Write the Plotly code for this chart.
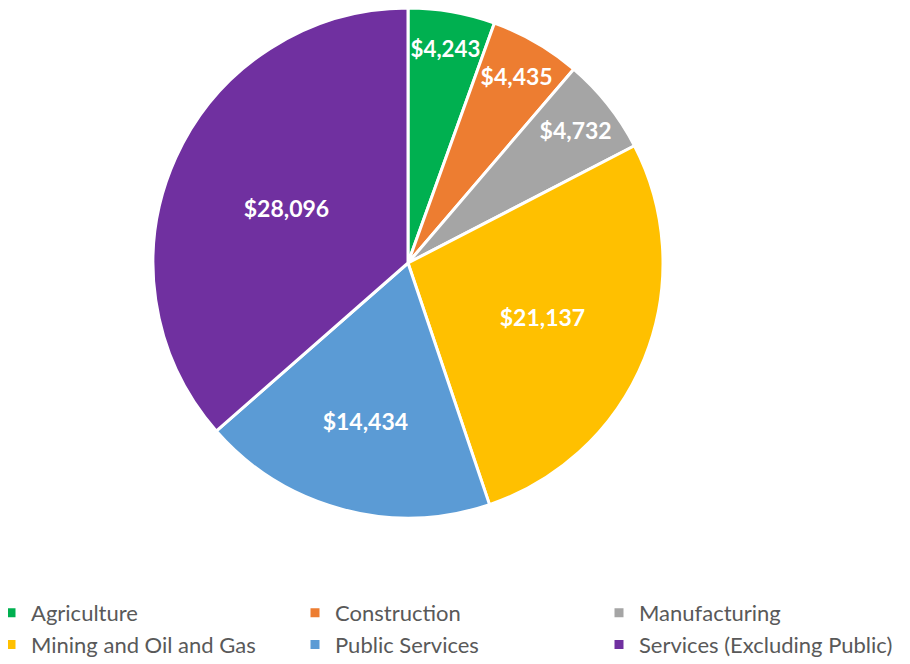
import plotly.graph_objects as go

categories = ["Agriculture", "Construction", "Manufacturing", "Mining and Oil and Gas",
              "Public Services", "Services (Excluding Public)"]
values = [4243, 4435, 4732, 21137, 14434, 28096]
colors = ["#00B050", "#ED7D31", "#A5A5A5", "#FFC000", "#5B9BD5", "#7030A0"]

W, H = 910, 664
MB = 80                      # bottom margin reserved for the legend
PH = H - MB                  # plot-area height
cx, cy, r = 400, 255, 255    # pie centre/radius in page pixels (body has 8px offset)

fig = go.Figure(go.Pie(
    labels=categories,
    values=values,
    sort=False,
    direction="clockwise",
    rotation=0,
    marker=dict(colors=colors, line=dict(color="white", width=3)),
    texttemplate="$%{value:,}",
    textposition="inside",
    insidetextorientation="horizontal",
    textfont=dict(family="Lato", size=23, color="white", weight="bold"),
    hoverinfo="label+value+percent",
    domain=dict(x=[(cx - r) / W, (cx + r) / W], y=[1 - (cy + r) / PH, 1 - max(cy - r, 0) / PH]),
))

fig.update_layout(
    width=W, height=H,
    margin=dict(l=0, r=0, t=0, b=MB, autoexpand=False),
    paper_bgcolor="white",
    font=dict(family="Lato", color="#595959"),
    showlegend=True,
    legend=dict(
        orientation="h",
        x=-17 / W, y=0, xanchor="left", yanchor="top",
        entrywidth=259, entrywidthmode="pixels",
        font=dict(family="Lato", size=22, color="#595959"),
        traceorder="normal",
    ),
)

fig.write_html("out.html")
